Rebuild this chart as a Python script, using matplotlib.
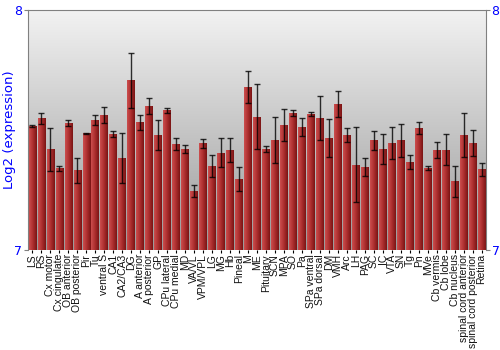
import numpy as np
import matplotlib
matplotlib.use('Agg')
import matplotlib.pyplot as plt
from matplotlib.colors import LinearSegmentedColormap

regions = ['LS', 'RS', 'Cx motor', 'Cx cingulate', 'OB anterior', 'OB posterior', 'Pir', 'Tu',
           'ventral S', 'CA1', 'CA2/CA3', 'DG', 'A anterior', 'A posterior', 'GP', 'CPu lateral',
           'CPu medial', 'MD', 'VA/VL', 'VPM/VPL', 'LG', 'MG', 'Hb', 'Pineal', 'M', 'ME',
           'Pituitary', 'SCN', 'MPA', 'SO', 'Pa', 'SPa ventral', 'SPa dorsal', 'DM', 'VMH', 'Arc',
           'LH', 'PAG', 'SC', 'IC', 'VTA', 'SN', 'Tg', 'Pn', 'MVe', 'Cb vermis', 'Cb lobe',
           'Cb nucleus', 'spinal cord anterior', 'spinal cord posterior', 'Retina']
expression = [7.518, 7.549, 7.42, 7.34, 7.528, 7.332, 7.486, 7.542,
              7.561, 7.483, 7.385, 7.708, 7.533, 7.601, 7.479, 7.583,
              7.442, 7.42, 7.246, 7.444, 7.35, 7.405, 7.415, 7.296, 7.679, 7.556,
              7.422, 7.457, 7.521, 7.571, 7.513, 7.567, 7.55, 7.467, 7.61, 7.481,
              7.356, 7.346, 7.458, 7.421, 7.447, 7.457, 7.365, 7.508, 7.342, 7.417, 7.418,
              7.286, 7.479, 7.447, 7.336]
errors = [0.004, 0.024, 0.09, 0.01, 0.012, 0.053, 0.002, 0.022,
          0.033, 0.011, 0.104, 0.115, 0.031, 0.034, 0.061, 0.01,
          0.026, 0.017, 0.026, 0.019, 0.046, 0.06, 0.05, 0.05, 0.068, 0.135,
          0.012, 0.096, 0.068, 0.012, 0.037, 0.01, 0.092, 0.078, 0.054, 0.029,
          0.156, 0.039, 0.04, 0.061, 0.067, 0.069, 0.029, 0.026, 0.01, 0.033, 0.064,
          0.066, 0.092, 0.054, 0.028]

blue = '#0000ff'
fig = plt.figure(figsize=(5, 3.5), dpi=100)
ax = fig.add_axes([0.056, 0.286, 0.916, 0.685])

x = np.arange(len(regions))
ax.set_xlim(-0.5, len(regions) - 0.5)
ax.set_ylim(7, 8)

# background: light at top, darker gray at bottom
bg = LinearSegmentedColormap.from_list('bg', ['#9a9a9a', '#f2f2f2'])
ax.imshow(np.linspace(0, 1, 256).reshape(-1, 1), cmap=bg, aspect='auto',
          extent=[0, 1, 0, 1], transform=ax.transAxes, origin='lower', zorder=0)

bars = ax.bar(x, np.array(expression) - 7, bottom=7, width=0.86,
              facecolor='none', edgecolor='none', zorder=2)
barcm = LinearSegmentedColormap.from_list('bar', ['#cc4e4e', '#ac2e2e', '#7a1414'])
grad = np.linspace(0, 1, 64).reshape(1, -1)
for b in bars:
    im = ax.imshow(grad, cmap=barcm, aspect='auto', zorder=2,
                   extent=[b.get_x(), b.get_x() + b.get_width(), 7, 7 + b.get_height()])
    im.set_clip_path(b)

ax.errorbar(x, expression, yerr=errors, fmt='none', ecolor='black', elinewidth=1,
            capsize=2, capthick=1, alpha=0.8, zorder=3)

for s in ['top', 'left', 'right']:
    ax.spines[s].set_color('#808080')
ax.spines['bottom'].set_visible(False)

ax.set_yticks([7, 8])
ax.set_yticklabels(['7', '8'])
ax.tick_params(axis='y', colors='#808080', labelcolor=blue, labelsize=9, length=3,
               left=True, right=True, labelleft=True, labelright=True, pad=1)
ax.set_xticks(x)
ax.set_xticklabels(regions, rotation=90, fontsize=7.5, family='Liberation Sans', color='#111111')
ax.tick_params(axis='x', length=2, pad=1, color='black')
ax.set_ylabel('Log2 (expression)', color=blue, fontsize=9.5)
ax.yaxis.set_label_coords(-0.027, 0.5)

fig.savefig('out.png', dpi=100)
